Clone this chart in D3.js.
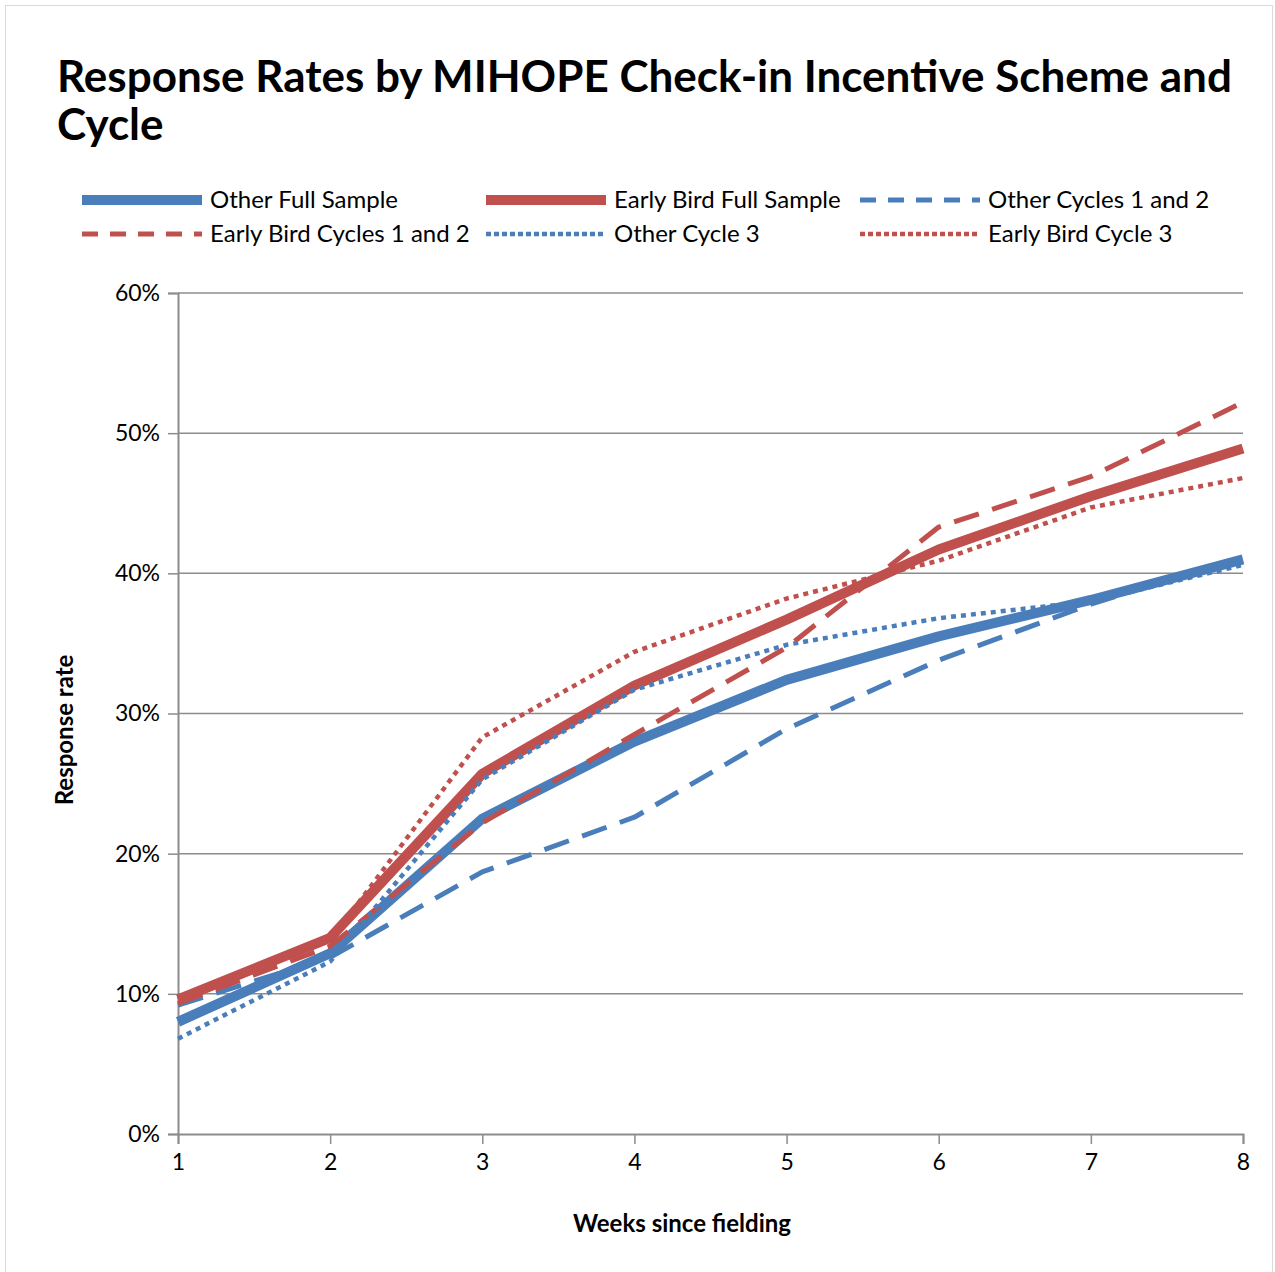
<!DOCTYPE html>
<html>
<head>
<meta charset="utf-8">
<script src="https://cdn.jsdelivr.net/npm/d3@7"></script>
<style>
  body { margin: 0; background: #fff; }
  svg { display: block; font-family: Lato, "Open Sans", sans-serif; }
</style>
</head>
<body>
<div id="chart"></div>
<script>
const weeks = [1, 2, 3, 4, 5, 6, 7, 8];
const yTicks = [0, 0.1, 0.2, 0.3, 0.4, 0.5, 0.6];

const otherFull = [0.080, 0.129, 0.225, 0.280, 0.324, 0.355, 0.381, 0.410];
const earlyFull = [0.096, 0.140, 0.257, 0.320, 0.367, 0.417, 0.455, 0.489];
const otherC12 = [0.092, 0.126, 0.187, 0.226, 0.289, 0.338, 0.378, 0.412];
const earlyC12 = [0.093, 0.134, 0.222, 0.285, 0.347, 0.433, 0.469, 0.522];
const otherC3 = [0.068, 0.123, 0.253, 0.317, 0.349, 0.368, 0.380, 0.406];
const earlyC3 = [0.096, 0.138, 0.283, 0.344, 0.382, 0.409, 0.447, 0.468];

const blue = '#4A7EBB';
const red = '#C0504D';

const series = [
  { name: 'Other Full Sample', values: otherFull, color: blue, width: 10, dash: null, lw: 10, ldash: null },
  { name: 'Early Bird Full Sample', values: earlyFull, color: red, width: 10, dash: null, lw: 10, ldash: null },
  { name: 'Other Cycles 1 and 2', values: otherC12, color: blue, width: 5, dash: '26,14', lw: 5, ldash: '16,12' },
  { name: 'Early Bird Cycles 1 and 2', values: earlyC12, color: red, width: 5, dash: '26,14', lw: 5, ldash: '16,12' },
  { name: 'Other Cycle 3', values: otherC3, color: blue, width: 4.5, dash: '5,5', lw: 4.5, ldash: '5,3' },
  { name: 'Early Bird Cycle 3', values: earlyC3, color: red, width: 4.5, dash: '5,5', lw: 4.5, ldash: '5,3' },
];

const W = 1275, H = 1272;
const margin = { top: 293, left: 178, right: 32, bottom: 138 };

const svg = d3.select('#chart').append('svg')
  .attr('width', W)
  .attr('height', H);

svg.append('rect')
  .attr('x', 5.5).attr('y', 5.5)
  .attr('width', W - 8).attr('height', H - 4)
  .attr('fill', '#fff')
  .attr('stroke', '#d9d9d9');

// title
const title = svg.append('text')
  .attr('x', 57).attr('y', 92)
  .attr('font-size', 44).attr('font-weight', 'bold')
  .attr('fill', '#000');
title.append('tspan').attr('x', 57).attr('dy', 0)
  .text('Response Rates by MIHOPE Check-in Incentive Scheme and');
title.append('tspan').attr('x', 57).attr('dy', 48).text('Cycle');

const x = d3.scaleLinear()
  .domain([1, 8])
  .range([margin.left, W - margin.right]);
const y = d3.scaleLinear()
  .domain([0, 0.6])
  .range([H - margin.bottom, margin.top]);

// gridlines
svg.append('g')
  .selectAll('line')
  .data(yTicks.slice(1))
  .join('line')
  .attr('x1', x(1)).attr('x2', x(8))
  .attr('y1', d => y(d)).attr('y2', d => y(d))
  .attr('stroke', '#8c8c8c').attr('stroke-width', 1.5);

// y axis
const yAxis = svg.append('g')
  .attr('transform', `translate(${x(1)},0)`)
  .call(d3.axisLeft(y).tickValues(yTicks).tickFormat(d3.format('.0%')).tickSize(10).tickPadding(8));
yAxis.select('.domain').attr('stroke', '#8c8c8c').attr('stroke-width', 2);
yAxis.selectAll('.tick line').attr('stroke', '#8c8c8c').attr('stroke-width', 1.5);
yAxis.selectAll('text').attr('font-size', 23).attr('fill', '#000').attr('font-family', 'Lato, sans-serif');

// x axis
const xAxis = svg.append('g')
  .attr('transform', `translate(0,${y(0)})`)
  .call(d3.axisBottom(x).tickValues(weeks).tickFormat(d3.format('d')).tickSize(10).tickPadding(10));
xAxis.select('.domain').attr('stroke', '#8c8c8c').attr('stroke-width', 2);
xAxis.selectAll('.tick line').attr('stroke', '#8c8c8c').attr('stroke-width', 1.5);
xAxis.selectAll('text').attr('font-size', 23).attr('fill', '#000').attr('font-family', 'Lato, sans-serif');

// axis titles
svg.append('text')
  .attr('x', 682).attr('y', 1232)
  .attr('text-anchor', 'middle')
  .attr('font-size', 24).attr('font-weight', 'bold')
  .text('Weeks since fielding');

svg.append('text')
  .attr('transform', 'translate(73,730) rotate(-90)')
  .attr('text-anchor', 'middle')
  .attr('font-size', 24).attr('font-weight', 'bold')
  .text('Response rate');

// lines
const line = d3.line()
  .x((d, i) => x(weeks[i]))
  .y(d => y(d));

svg.append('g')
  .selectAll('path')
  .data(series)
  .join('path')
  .attr('d', d => line(d.values))
  .attr('fill', 'none')
  .attr('stroke', d => d.color)
  .attr('stroke-width', d => d.width)
  .attr('stroke-dasharray', d => d.dash)
  .attr('stroke-linejoin', 'round');

// legend
const legendCols = [82, 486, 860];
const legendRows = [200, 234];
const legend = svg.append('g')
  .selectAll('g')
  .data(series)
  .join('g')
  .attr('transform', (d, i) => `translate(${legendCols[i % 3]},${legendRows[Math.floor(i / 3)]})`);

legend.append('line')
  .attr('x1', 0).attr('x2', 120)
  .attr('stroke', d => d.color)
  .attr('stroke-width', d => d.lw)
  .attr('stroke-dasharray', d => d.ldash);

legend.append('text')
  .attr('x', 128).attr('y', 8)
  .attr('font-size', 24)
  .text(d => d.name);
</script>
</body>
</html>
